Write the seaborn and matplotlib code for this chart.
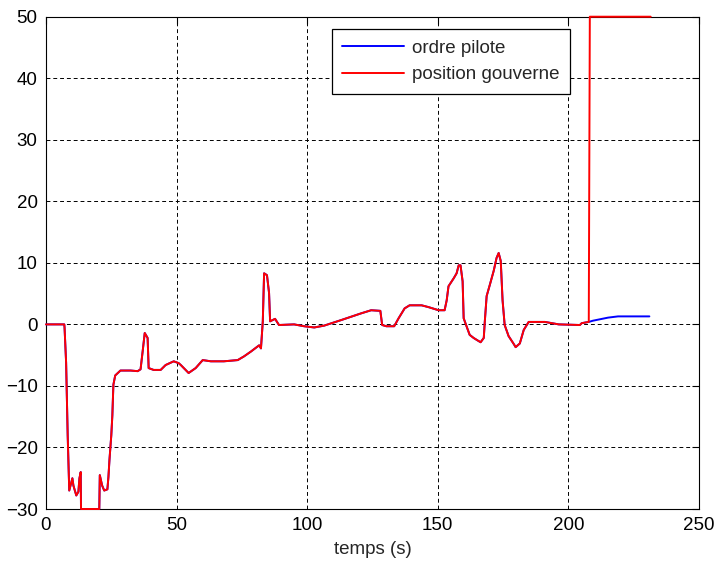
import numpy as np
import pandas as pd
import matplotlib
matplotlib.use("Agg")
import matplotlib.pyplot as plt
import seaborn as sns

# common part of both signals (red and blue overlap up to ~208 s)
t_common = [0, 7.0, 7.1, 7.7, 8.3, 8.9, 10.1, 10.5, 11.6, 12.4, 12.8, 13.3, 13.4, 20.4,
            20.6, 21.5, 22.3, 23.5, 23.9, 24.3, 25.0, 25.4, 25.8, 26.5, 28.5, 32.4,
            35.1, 36.2, 37.0, 37.8, 38.9, 39.3, 41.2, 43.9, 45.8, 48.9, 50.8, 51.6,
            54.6, 57.3, 60.0, 63.1, 68.1, 73.4, 75.8, 78.5, 81.6, 82.3, 83.0, 83.5,
            84.6, 85.4, 85.8, 87.7, 89.2, 95.0, 98.8, 102.7, 106.5, 113.0, 120.7,
            124.5, 128.0, 128.7, 130.3, 133.3, 135.0, 137.3, 139.2, 143.8, 146.5,
            150.3, 152.6, 153.4, 154.1, 156.1, 157.2, 158.0, 158.7, 159.5, 159.9,
            161.0, 162.2, 163.7, 165.6, 166.4, 167.6, 168.0, 168.7, 169.9, 171.4,
            172.5, 173.3, 174.1, 174.8, 175.6, 177.1, 179.1, 179.8, 181.4, 182.9,
            184.8, 191.0, 196.3, 204.4, 205.1, 207.8]
y_common = [0, 0, -0.5, -6.2, -18.0, -27.0, -25.0, -26.2, -27.8, -27.2, -25.0, -24.0, -30.0, -30.0,
            -24.5, -26.2, -27.0, -26.8, -24.8, -22.0, -18.0, -14.8, -9.8, -8.3, -7.5, -7.5,
            -7.6, -7.3, -4.4, -1.4, -2.2, -7.1, -7.4, -7.4, -6.6, -6.0, -6.3, -6.6,
            -7.9, -7.1, -5.8, -6.0, -6.0, -5.8, -5.2, -4.4, -3.4, -3.9, 0.5, 8.3,
            8.0, 5.1, 0.5, 0.9, -0.1, 0.0, -0.3, -0.5, -0.2, 0.7, 1.8,
            2.3, 2.2, -0.1, -0.3, -0.3, 1.0, 2.6, 3.1, 3.1, 2.8,
            2.3, 2.3, 3.9, 6.2, 7.5, 8.3, 9.6, 9.6, 7.0, 1.0,
            -0.3, -1.7, -2.2, -2.7, -2.9, -2.2, 0.5, 4.6, 6.4, 8.7,
            10.8, 11.6, 10.3, 3.9, -0.1, -1.9, -3.2, -3.7, -3.1, -0.9,
            0.4, 0.4, 0.0, -0.1, 0.2, 0.4]

# tails after the split
t_pilote_tail = [209.4, 215.2, 219.0, 231.0]
y_pilote_tail = [0.6, 1.1, 1.3, 1.3]
t_gouverne_tail = [208.2, 231.5]
y_gouverne_tail = [50, 50]

df_pilote = pd.DataFrame({"t": t_common + t_pilote_tail, "y": y_common + y_pilote_tail})
df_gouv = pd.DataFrame({"t": t_common + t_gouverne_tail, "y": y_common + y_gouverne_tail})

sns.set_style("white")
plt.rcParams["font.family"] = ["Liberation Sans", "DejaVu Sans"]
fs = 13.5

fig = plt.figure(figsize=(7.15, 5.67), dpi=100)
ax = fig.add_axes([46 / 715, 1 - 509 / 567, 653 / 715, 492.3 / 567])

sns.lineplot(data=df_pilote, x="t", y="y", ax=ax, color="blue", linewidth=1.4,
             sort=False, estimator=None, label="ordre pilote", clip_on=False, zorder=3)
sns.lineplot(data=df_gouv, x="t", y="y", ax=ax, color="red", linewidth=1.4,
             sort=False, estimator=None, label="position gouverne", clip_on=False, zorder=3)

ax.set_xlim(0, 250)
ax.set_ylim(-30, 50)
ax.set_xticks(np.arange(0, 251, 50))
ax.set_yticks(np.arange(-30, 51, 10))
ax.grid(True, color="black", linestyle=(0, (4, 3)), linewidth=0.7)
ax.set_axisbelow(True)
ax.tick_params(direction="in", top=True, right=True, length=5, width=0.8,
               labelsize=fs, pad=6, colors="black")
for s in ax.spines.values():
    s.set_color("black")
    s.set_linewidth(0.8)

ax.set_xlabel("temps (s)", fontsize=fs, labelpad=5)
ax.set_ylabel("")

leg = ax.legend(loc="upper left", bbox_to_anchor=(0.4375, 0.974), borderaxespad=0,
                fancybox=False, framealpha=1, edgecolor="black", handlelength=3.3,
                handletextpad=0.45, labelspacing=0.5, borderpad=0.55, fontsize=fs)
leg.get_frame().set_linewidth(0.9)

fig.savefig("out.png", dpi=100, facecolor="white")
